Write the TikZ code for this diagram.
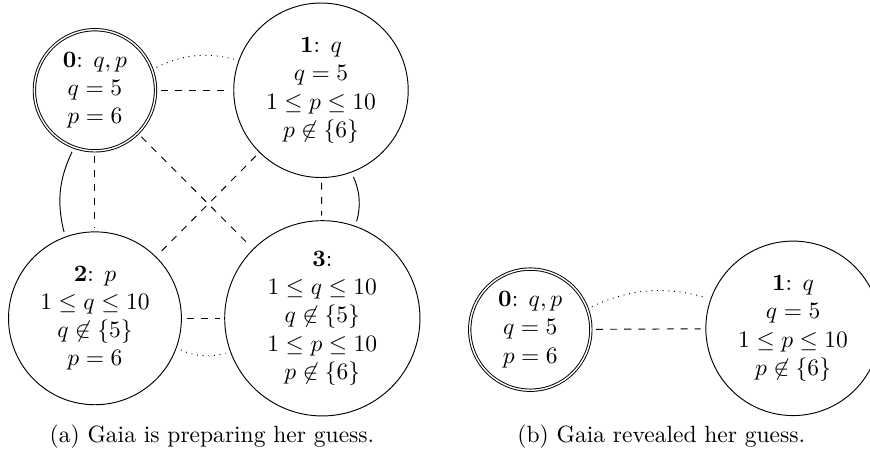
\documentclass[tikz,border=0pt]{standalone}
\usepackage{amsmath,amssymb}
\usetikzlibrary{arrows,positioning}
\tikzstyle{world}=[circle,draw,align=center]
\tikzstyle{actual}=[world,double]
\tikzset{every picture/.style={line width=0.4pt}}

\begin{document}
\begin{tikzpicture}
\useasboundingbox (-1.42,1.35) rectangle (11.59,-5.47);
% (a) before the guess
\node[actual] (W0) at (0,0) {$\mathbf{0}$: $q,p$\\ $q=5$\\ $p=6$};
\node[world] (W1) at (3.38,0) {$\mathbf{1}$: $q$\\ $q=5$\\ $1\leq p\leq 10$\\ $p\not\in\{6\}$};
\node[world] (W2) at (0,-3.41) {$\mathbf{2}$: $p$\\ $1\leq q\leq 10$\\ $q\not\in\{5\}$\\ $p=6$};
\node[world] (W3) at (3.40,-3.41) {$\mathbf{3}$:\\ $1\leq q\leq 10$\\ $q\not\in\{5\}$\\ $1\leq p\leq 10$\\ $p\not\in\{6\}$};
\path[shorten <=2pt,shorten >=2pt]
(W0) edge [dashed] (W1)
(W0) edge [dotted,bend left=20] (W1)
(W0) edge [dashed] (W2)
(W0) edge [bend right=20] (W2)
(W1) edge [dashed] (W3)
(W1) edge [bend left=20] (W3)
(W2) edge [dashed] (W3)
(W2) edge [dotted,bend right=20] (W3)
(W0) edge [dashed] (W3)
(W1) edge [dashed] (W2);
\node (capa) at (1.75,-5.18) {(a) Gaia is preparing her guess.};
% (b) after the guess
\node[actual] (V0) at (6.51,-3.58) {$\mathbf{0}$: $q,p$\\ $q=5$\\ $p=6$};
\node[world] (V1) at (10.44,-3.56) {$\mathbf{1}$: $q$\\ $q=5$\\ $1\leq p\leq 10$\\ $p\not\in\{6\}$};
\path[shorten <=2pt,shorten >=2pt]
(V0) edge [dashed] (V1)
(V0) edge [dotted,bend left=20] (V1);
\node (capb) at (8.47,-5.18) {(b) Gaia revealed her guess.};
\end{tikzpicture}
\end{document}
